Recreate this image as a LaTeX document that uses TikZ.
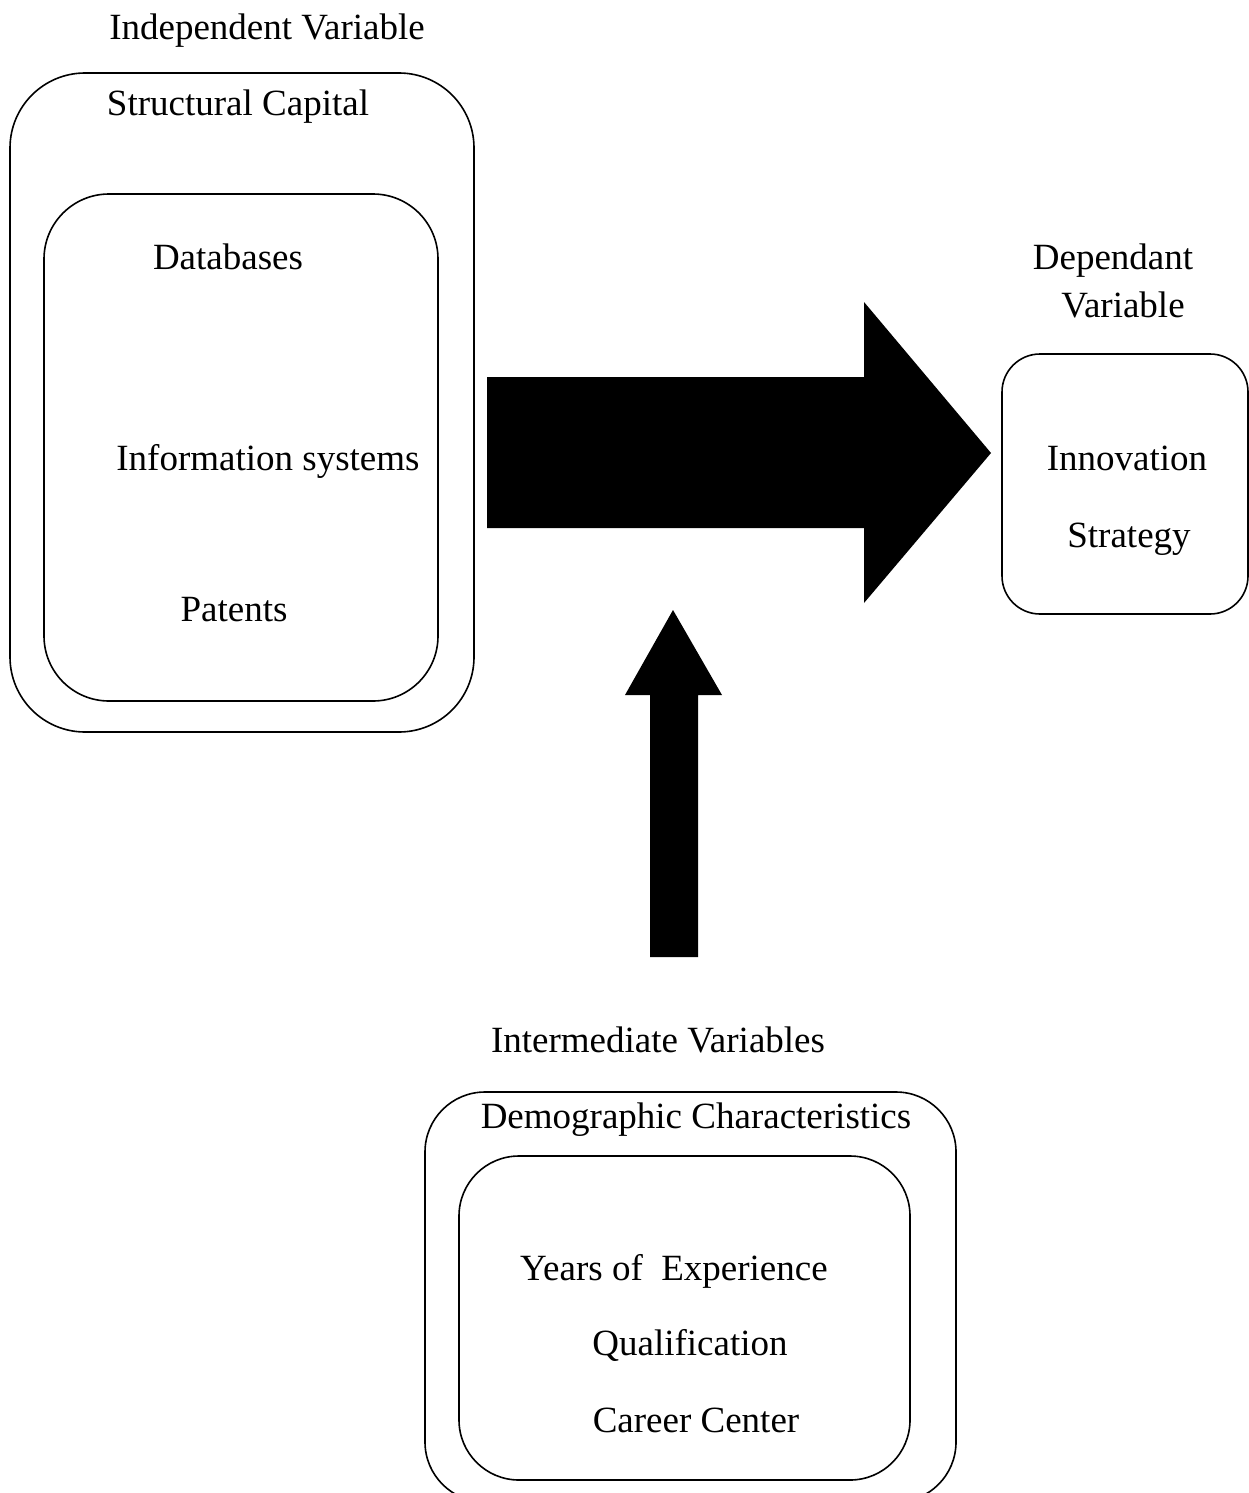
\documentclass[tikz,border=0pt]{standalone}
\usepackage{fontspec}
\setmainfont{Liberation Serif}
\begin{document}
\begin{tikzpicture}[x=1pt,y=-1pt,
  box/.style={draw, line width=1.6pt},
  lbl/.style={anchor=base, inner sep=0pt, font=\fontsize{37}{44}\selectfont},
  blockarrow/.style={fill=black, draw=none}]
\useasboundingbox (0,0) rectangle (1249,1493);
\clip (0,0) rectangle (1249,1493);
\fill[white] (0,0) rectangle (1249,1493);
% left boxes
\draw[box, rounded corners=75pt] (10,73) rectangle (474,732);
\draw[box, rounded corners=65pt] (44,194) rectangle (438,701);
\node[lbl] (iv) at (267,40) {Independent Variable};
\node[lbl] (sc) at (238,116) {Structural Capital};
\node[lbl] (db) at (228,269) {Databases};
\node[lbl] (is) at (268,470) {Information systems};
\node[lbl] (pt) at (234,621) {Patents};
% right box
\draw[box, rounded corners=38pt] (1002,354) rectangle (1248,614);
\node[lbl] (dv1) at (1113,269) {Dependant};
\node[lbl] (dv2) at (1123,317) {Variable};
\node[lbl] (in) at (1127,470) {Innovation};
\node[lbl] (st) at (1129,547) {Strategy};
% bottom boxes
\draw[box, rounded corners=60pt] (425,1092) rectangle (956,1502);
\draw[box, rounded corners=60pt] (459,1156) rectangle (910,1480);
\node[lbl] (imv) at (658,1052) {Intermediate Variables};
\node[lbl] (dc) at (696,1128) {Demographic Characteristics};
\node[lbl] (ye) at (674,1280) {Years of\ \ Experience};
\node[lbl] (qu) at (690,1355) {Qualification};
\node[lbl] (cc) at (696,1432) {Career Center};
% block arrows
\fill[blockarrow] (487,377) -- (864,377) -- (864,302) -- (991,453) -- (864,603) -- (864,528) -- (487,528) -- cycle;
\fill[blockarrow] (650,957) -- (650,695) -- (625,695) -- (673,610) -- (722,695) -- (698,695) -- (698,957) -- cycle;
\end{tikzpicture}
\end{document}
